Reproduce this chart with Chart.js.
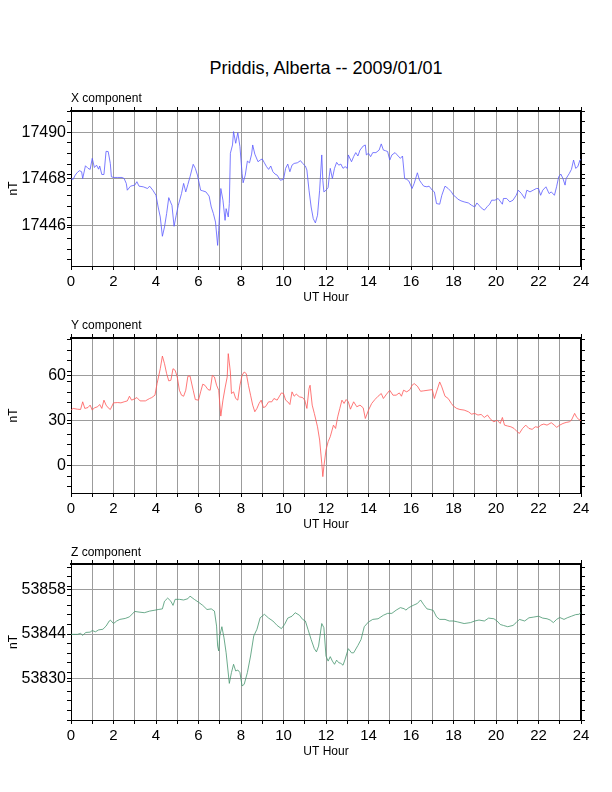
<!DOCTYPE html>
<html>
<head>
<meta charset="utf-8">
<script src="https://cdn.jsdelivr.net/npm/chart.js@4.4.1/dist/chart.umd.min.js"></script>
<style>
  body { margin: 0; background: #fff; font-family: "Liberation Sans", Arial, sans-serif; }
  #page { position: relative; width: 612px; height: 792px; }
  canvas { position: absolute; left: 0; }
  .lbl { position: absolute; white-space: nowrap; color: #000; }
  .sub { left: 71px; font-size: 12px; line-height: 14px; }
  #title { left: 0; width: 652px; text-align: center; top: 57px; font-size: 18px; line-height: 22px; }
</style>
</head>
<body>
<div id="page">
  <canvas id="canvasX" width="612" height="212" style="top:99px"></canvas>
  <canvas id="canvasY" width="612" height="212" style="top:326px"></canvas>
  <canvas id="canvasZ" width="612" height="213" style="top:552px"></canvas>
  <div class="lbl" id="title">Priddis, Alberta -- 2009/01/01</div>
  <div class="lbl sub" style="top:91px">X component</div>
  <div class="lbl sub" style="top:318px">Y component</div>
  <div class="lbl sub" style="top:545px">Z component</div>
</div>
<script>
// hour ticks along the bottom (labels on even hours)
const hourTicks = [0,1,2,3,4,5,6,7,8,9,10,11,12,13,14,15,16,17,18,19,20,21,22,23,24];

// X component (nT)
const xHours = [
  0, 0.1, 0.2, 0.3, 0.4, 0.5, 0.55, 0.68, 0.8, 0.9,
  1.0, 1.1, 1.2, 1.3, 1.35, 1.45, 1.55, 1.65, 1.75, 1.85,
  1.9, 2.0, 2.2, 2.4, 2.5, 2.6, 2.65, 2.8, 3.0, 3.1,
  3.2, 3.4, 3.6, 3.7, 3.85, 4.0, 4.1, 4.2, 4.3, 4.4,
  4.5, 4.6, 4.7, 4.75, 4.85, 4.95, 5.05, 5.2, 5.3, 5.4,
  5.5, 5.6, 5.75, 5.85, 5.95, 6.1, 6.2, 6.35, 6.5, 6.6,
  6.7, 6.8, 6.9, 6.95, 7.05, 7.15, 7.25, 7.3, 7.4, 7.45,
  7.5, 7.6, 7.65, 7.75, 7.85, 7.95, 8.05, 8.1, 8.2, 8.3,
  8.4, 8.5, 8.55, 8.65, 8.8, 8.9, 9.0, 9.1, 9.2, 9.3,
  9.4, 9.5, 9.6, 9.7, 9.85, 10.0, 10.1, 10.2, 10.3, 10.4,
  10.5, 10.65, 10.8, 10.9, 11.03, 11.1, 11.2, 11.3, 11.4, 11.5,
  11.6, 11.7, 11.8, 11.85, 11.9, 12.0, 12.1, 12.15, 12.2, 12.3,
  12.4, 12.5, 12.6, 12.7, 12.8, 12.9, 13.0, 13.05, 13.2, 13.3,
  13.4, 13.5, 13.6, 13.75, 13.85, 13.9, 14.0, 14.1, 14.2, 14.35,
  14.5, 14.6, 14.7, 14.8, 14.9, 15.0, 15.1, 15.25, 15.35, 15.5,
  15.6, 15.7, 15.8, 15.9, 16.05, 16.15, 16.3, 16.4, 16.5, 16.6,
  16.75, 16.85, 17.0, 17.1, 17.2, 17.35, 17.45, 17.6, 17.75, 17.9,
  18.0, 18.1, 18.2, 18.35, 18.5, 18.7, 18.85, 19.0, 19.1, 19.2,
  19.3, 19.45, 19.6, 19.7, 19.8, 19.95, 20.1, 20.3, 20.35, 20.5,
  20.65, 20.8, 20.95, 21.05, 21.2, 21.35, 21.45, 21.6, 21.75, 21.9,
  22.0, 22.1, 22.2, 22.35, 22.5, 22.6, 22.75, 22.85, 22.95, 23.05,
  23.15, 23.25, 23.3, 23.45, 23.55, 23.65, 23.75, 23.85, 23.95, 24.0
];
const xValues = [
  17468.1, 17467.8, 17469.8, 17471.1, 17471.9, 17471.4, 17468.2, 17474.2, 17473.0, 17472.5,
  17477.7, 17473.4, 17474.5, 17472.6, 17474.1, 17470.1, 17470.1, 17481.0, 17480.9, 17475.3,
  17469.0, 17468.7, 17468.7, 17468.7, 17468.2, 17465.9, 17462.7, 17464.6, 17465.1, 17466.7,
  17464.6, 17464.3, 17463.5, 17464.6, 17462.7, 17460.3, 17454.8, 17450.1, 17441.0, 17445.4,
  17451.7, 17459.2, 17456.7, 17455.6, 17445.7, 17450.9, 17455.6, 17461.1, 17465.9, 17461.9,
  17465.4, 17469.0, 17474.9, 17473.0, 17469.8, 17462.7, 17462.4, 17461.9, 17459.9, 17454.8,
  17451.7, 17447.7, 17436.7, 17443.8, 17463.5, 17458.0, 17448.5, 17454.0, 17450.1, 17456.4,
  17480.1, 17484.0, 17490.3, 17484.8, 17489.8, 17483.2, 17470.6, 17466.2, 17469.8, 17476.4,
  17475.6, 17479.7, 17484.0, 17479.7, 17476.1, 17476.9, 17477.4, 17475.6, 17473.8, 17472.5,
  17474.1, 17471.4, 17470.3, 17469.8, 17467.4, 17467.8, 17473.0, 17475.0, 17471.4, 17474.5,
  17475.3, 17475.6, 17476.6, 17475.3, 17474.1, 17472.2, 17462.7, 17454.8, 17449.3, 17447.3,
  17450.9, 17462.7, 17479.3, 17467.4, 17461.9, 17462.7, 17464.0, 17469.0, 17473.0, 17468.2,
  17473.0, 17475.8, 17474.5, 17475.0, 17473.0, 17473.8, 17473.0, 17479.3, 17476.1, 17478.5,
  17480.4, 17478.8, 17481.6, 17483.5, 17484.0, 17479.3, 17480.1, 17478.5, 17480.4, 17480.4,
  17481.6, 17484.5, 17481.6, 17481.3, 17480.9, 17476.9, 17479.3, 17480.4, 17479.3, 17477.7,
  17478.8, 17468.2, 17467.8, 17467.0, 17463.5, 17465.9, 17470.9, 17467.4, 17465.9, 17464.6,
  17464.3, 17464.6, 17462.7, 17461.9, 17456.4, 17456.1, 17460.3, 17464.6, 17463.5, 17461.9,
  17460.3, 17459.6, 17458.5, 17457.7, 17457.2, 17456.7, 17455.6, 17454.8, 17456.7, 17455.6,
  17454.4, 17453.3, 17455.1, 17456.1, 17458.0, 17458.0, 17458.8, 17456.1, 17458.8, 17458.8,
  17457.2, 17458.0, 17460.3, 17462.7, 17461.1, 17458.8, 17462.7, 17461.9, 17462.7, 17463.5,
  17463.5, 17460.3, 17462.7, 17464.3, 17461.1, 17461.9, 17460.3, 17464.3, 17469.0, 17470.3,
  17468.2, 17465.1, 17468.2, 17470.6, 17472.5, 17476.9, 17473.0, 17473.8, 17476.9, 17477.2
];

// Y component (nT)
const yHours = [
  0, 0.1, 0.3, 0.45, 0.55, 0.65, 0.8, 0.9, 1.0, 1.1,
  1.25, 1.35, 1.45, 1.55, 1.65, 1.75, 1.85, 2.0, 2.2, 2.35,
  2.5, 2.65, 2.75, 2.85, 3.0, 3.1, 3.25, 3.5, 3.7, 3.8,
  3.95, 4.05, 4.2, 4.3, 4.4, 4.5, 4.6, 4.7, 4.8, 4.9,
  5.0, 5.1, 5.2, 5.3, 5.4, 5.5, 5.6, 5.75, 5.85, 6.0,
  6.1, 6.2, 6.3, 6.45, 6.55, 6.65, 6.75, 6.85, 6.95, 7.05,
  7.15, 7.25, 7.35, 7.4, 7.5, 7.55, 7.65, 7.75, 7.85, 7.95,
  8.05, 8.15, 8.25, 8.35, 8.45, 8.55, 8.65, 8.75, 8.85, 8.95,
  9.05, 9.15, 9.3, 9.45, 9.55, 9.7, 9.9, 10.0, 10.1, 10.2,
  10.3, 10.4, 10.5, 10.6, 10.75, 10.9, 11.0, 11.1, 11.2, 11.25,
  11.35, 11.45, 11.6, 11.7, 11.8, 11.85, 11.9, 12.0, 12.1, 12.2,
  12.35, 12.45, 12.55, 12.65, 12.75, 12.85, 12.95, 13.05, 13.15, 13.3,
  13.45, 13.6, 13.75, 13.85, 14.0, 14.15, 14.3, 14.45, 14.6, 14.7,
  14.85, 15.0, 15.15, 15.3, 15.45, 15.55, 15.65, 15.8, 15.95, 16.05,
  16.15, 16.3, 16.45, 16.6, 16.8, 17.0, 17.1, 17.2, 17.35, 17.45,
  17.6, 17.75, 17.9, 18.0, 18.15, 18.3, 18.5, 18.7, 18.85, 19.0,
  19.15, 19.3, 19.45, 19.6, 19.75, 19.9, 20.05, 20.2, 20.3, 20.4,
  20.55, 20.7, 20.85, 21.0, 21.1, 21.25, 21.4, 21.55, 21.7, 21.85,
  22.0, 22.1, 22.25, 22.4, 22.6, 22.75, 22.85, 23.0, 23.15, 23.3,
  23.45, 23.55, 23.7, 23.8, 23.9, 24.0
];
const yValues = [
  37.1, 38.2, 37.7, 37.5, 42.6, 38.2, 38.8, 40.4, 37.1, 38.6,
  39.3, 40.8, 38.2, 43.7, 40.4, 38.6, 37.5, 41.9, 42.1, 41.9,
  42.6, 43.2, 46.3, 43.7, 44.6, 45.4, 43.2, 43.2, 44.8, 45.4,
  47.0, 54.7, 64.6, 73.0, 67.9, 61.3, 56.5, 56.9, 64.6, 63.5,
  59.1, 50.3, 47.0, 46.3, 50.3, 59.6, 59.8, 50.3, 44.1, 43.7,
  49.2, 54.3, 53.6, 50.7, 50.3, 60.2, 59.1, 53.6, 50.3, 33.1,
  43.7, 51.8, 59.1, 74.6, 62.4, 48.1, 49.2, 44.8, 43.7, 53.6,
  60.2, 62.4, 61.3, 53.6, 47.0, 40.4, 36.0, 38.2, 41.5, 43.7,
  38.8, 39.3, 42.6, 42.6, 44.8, 43.7, 48.5, 48.1, 43.7, 42.6,
  40.8, 49.2, 46.3, 47.7, 45.9, 45.4, 43.7, 38.2, 51.4, 53.6,
  40.4, 34.9, 26.0, 17.2, 1.8, -7.1, -0.4, 10.6, 16.1, 19.4,
  27.1, 24.9, 32.6, 38.2, 43.7, 41.5, 44.1, 42.6, 37.7, 42.6,
  39.3, 40.4, 38.6, 31.5, 37.1, 41.5, 44.1, 46.3, 48.1, 44.8,
  47.7, 50.3, 47.0, 47.0, 48.5, 46.3, 50.3, 49.2, 50.7, 53.6,
  54.7, 53.0, 49.6, 49.9, 50.3, 50.7, 44.8, 49.2, 55.8, 52.5,
  46.3, 44.8, 41.5, 39.7, 38.2, 37.5, 37.1, 36.0, 34.4, 34.9,
  33.8, 34.2, 32.2, 33.8, 30.9, 29.3, 30.4, 28.2, 32.2, 27.1,
  26.5, 26.0, 24.9, 22.7, 21.6, 24.9, 27.1, 24.9, 24.3, 26.0,
  25.6, 27.1, 27.8, 27.1, 28.7, 27.1, 25.6, 27.1, 28.2, 28.9,
  29.3, 30.4, 34.9, 32.2, 30.9, 30.0
];

// Z component (nT)
const zHours = [
  0, 0.3, 0.45, 0.55, 0.7, 0.9, 1.0, 1.15, 1.3, 1.5,
  1.65, 1.8, 1.85, 2.0, 2.15, 2.3, 2.55, 2.75, 3.0, 3.2,
  3.45, 3.7, 3.95, 4.1, 4.3, 4.4, 4.55, 4.7, 4.8, 4.9,
  5.1, 5.3, 5.5, 5.6, 5.8, 6.0, 6.2, 6.4, 6.6, 6.75,
  6.85, 6.9, 6.95, 7.0, 7.1, 7.2, 7.3, 7.45, 7.55, 7.65,
  7.75, 7.85, 7.95, 8.05, 8.15, 8.3, 8.45, 8.6, 8.75, 8.9,
  9.1, 9.3, 9.5, 9.7, 9.9, 10.05, 10.2, 10.4, 10.55, 10.75,
  10.9, 11.03, 11.15, 11.3, 11.45, 11.55, 11.65, 11.8, 11.9, 12.0,
  12.1, 12.2, 12.3, 12.4, 12.5, 12.6, 12.7, 12.8, 12.9, 13.05,
  13.2, 13.3, 13.5, 13.65, 13.8, 14.0, 14.2, 14.45, 14.7, 14.9,
  15.1, 15.3, 15.5, 15.7, 15.75, 15.9, 16.1, 16.3, 16.45, 16.6,
  16.75, 16.9, 17.05, 17.2, 17.35, 17.6, 17.8, 18.0, 18.2, 18.5,
  18.8, 19.0, 19.2, 19.45, 19.65, 19.9, 20.05, 20.2, 20.35, 20.55,
  20.8, 20.95, 21.1, 21.35, 21.55, 21.75, 22.0, 22.2, 22.4, 22.55,
  22.7, 22.85, 23.0, 23.2, 23.35, 23.55, 23.75, 23.9, 24.0
];
const zValues = [
  53843.9, 53843.9, 53844.2, 53843.6, 53844.5, 53844.6, 53845.1, 53844.7, 53845.3, 53845.5,
  53846.5, 53848.1, 53848.4, 53847.3, 53848.1, 53848.6, 53848.9, 53849.4, 53851.1, 53850.9,
  53850.7, 53851.2, 53851.5, 53851.7, 53851.9, 53854.3, 53855.3, 53854.3, 53853.0, 53854.9,
  53854.9, 53854.7, 53855.1, 53855.9, 53854.9, 53854.0, 53853.0, 53851.7, 53851.9, 53851.2,
  53846.5, 53840.2, 53838.7, 53843.4, 53846.3, 53842.8, 53838.1, 53828.5, 53831.9, 53834.5,
  53832.4, 53832.7, 53831.9, 53827.7, 53828.2, 53831.9, 53837.1, 53843.4, 53845.5, 53849.1,
  53850.2, 53849.0, 53848.1, 53846.7, 53845.7, 53847.0, 53849.0, 53849.6, 53850.7, 53849.9,
  53848.6, 53848.1, 53845.5, 53842.3, 53839.4, 53838.4, 53840.2, 53847.3, 53846.0, 53837.1,
  53835.5, 53836.9, 53835.5, 53834.5, 53835.8, 53835.0, 53834.8, 53834.2, 53836.1, 53839.4,
  53838.1, 53838.1, 53840.4, 53842.3, 53846.3, 53847.8, 53848.6, 53848.8, 53849.9, 53850.5,
  53850.5, 53851.5, 53852.3, 53851.9, 53851.5, 53852.3, 53853.0, 53853.6, 53854.7, 53853.2,
  53851.9, 53851.7, 53851.4, 53849.4, 53848.6, 53848.6, 53848.1, 53848.1, 53847.8, 53847.3,
  53847.6, 53848.1, 53848.4, 53848.1, 53849.0, 53848.8, 53848.1, 53847.0, 53846.7, 53846.3,
  53846.7, 53847.6, 53848.6, 53848.1, 53849.1, 53849.3, 53849.6, 53849.0, 53848.8, 53848.4,
  53847.6, 53848.6, 53849.2, 53848.6, 53849.1, 53849.6, 53850.1, 53850.2, 53850.7
];

// labelled y ticks per panel, and the spacing of the small unlabelled ticks
const xTickLabels = [17446, 17468, 17490];
const yTickLabels = [0, 30, 60];
const zTickLabels = [53830, 53844, 53858];

const gridColor = '#9c9c9c';
const font = 'Liberation Sans';

function makePanel(id, hours, values, color, yMin, yMax, majors, minorStep) {
  const points = hours.map((h, i) => ({ x: h, y: values[i] }));

  let minors = [];
  for (let v = Math.ceil(yMin / minorStep) * minorStep; v <= yMax; v += minorStep) {
    if (!majors.includes(v)) minors.push(v);
  }
  const yTicks = minors.concat(majors).sort((a, b) => a - b);
  const isMajor = v => majors.includes(v);

  const setYTicks = axis => { axis.ticks = yTicks.map(v => ({ value: v })); };
  const setXTicks = axis => { axis.ticks = hourTicks.map(v => ({ value: v })); };

  new Chart(document.getElementById(id).getContext('2d'), {
    type: 'line',
    data: {
      datasets: [{
        data: points,
        borderColor: color,
        borderWidth: 0.8,
        pointRadius: 0,
        tension: 0,
        fill: false
      }]
    },
    options: {
      responsive: false,
      animation: false,
      layout: { padding: 0 },
      plugins: { legend: { display: false }, tooltip: { enabled: false } },
      scales: {
        x: {
          type: 'linear', position: 'bottom', min: 0, max: 24,
          afterBuildTicks: setXTicks,
          afterFit: s => { s.height = 45; },
          grid: { color: gridColor, lineWidth: 1, tickLength: 4, tickColor: '#000' },
          border: { display: true, color: '#000', width: 1 },
          ticks: {
            autoSkip: false, maxRotation: 0, padding: 3, color: '#000',
            font: { family: font, size: 15 },
            callback: v => (v % 2 === 0 ? String(v) : '')
          },
          title: {
            display: true, text: 'UT Hour', color: '#000',
            font: { family: font, size: 12 }, padding: { top: 0, bottom: 6 }
          }
        },
        xTop: {
          type: 'linear', position: 'top', min: 0, max: 24,
          afterBuildTicks: setXTicks,
          afterFit: s => { s.height = 12; },
          grid: { drawOnChartArea: false, tickLength: 4, tickColor: '#000' },
          border: { display: true, color: '#000', width: 2 },
          ticks: { display: false }
        },
        y: {
          type: 'linear', position: 'left', min: yMin, max: yMax,
          afterBuildTicks: setYTicks,
          afterFit: s => { s.width = 71; },
          grid: {
            color: c => (isMajor(c.tick.value) ? gridColor : 'rgba(0,0,0,0)'),
            lineWidth: 1, tickLength: 4, tickColor: '#000'
          },
          border: { display: true, color: '#000', width: 1 },
          ticks: {
            autoSkip: false, padding: 1, color: '#000',
            font: { family: font, size: 16 },
            callback: v => (isMajor(v) ? String(v) : '')
          },
          title: {
            display: true, text: 'nT', color: '#000',
            font: { family: font, size: 12 }, padding: { top: 6, bottom: 0 }
          }
        },
        yRight: {
          type: 'linear', position: 'right', min: yMin, max: yMax,
          afterBuildTicks: setYTicks,
          afterFit: s => { s.width = 31; },
          grid: { drawOnChartArea: false, tickLength: 4, tickColor: '#000' },
          border: { display: true, color: '#000', width: 2 },
          ticks: { display: false }
        }
      }
    }
  });
}

makePanel('canvasX', xHours, xValues, 'rgb(90,90,255)', 17427, 17500, xTickLabels, 5);
makePanel('canvasY', yHours, yValues, 'rgb(255,85,85)', -18, 85, yTickLabels, 7);
makePanel('canvasZ', zHours, zValues, 'rgb(70,150,110)', 53817, 53866, zTickLabels, 3);
</script>
</body>
</html>
